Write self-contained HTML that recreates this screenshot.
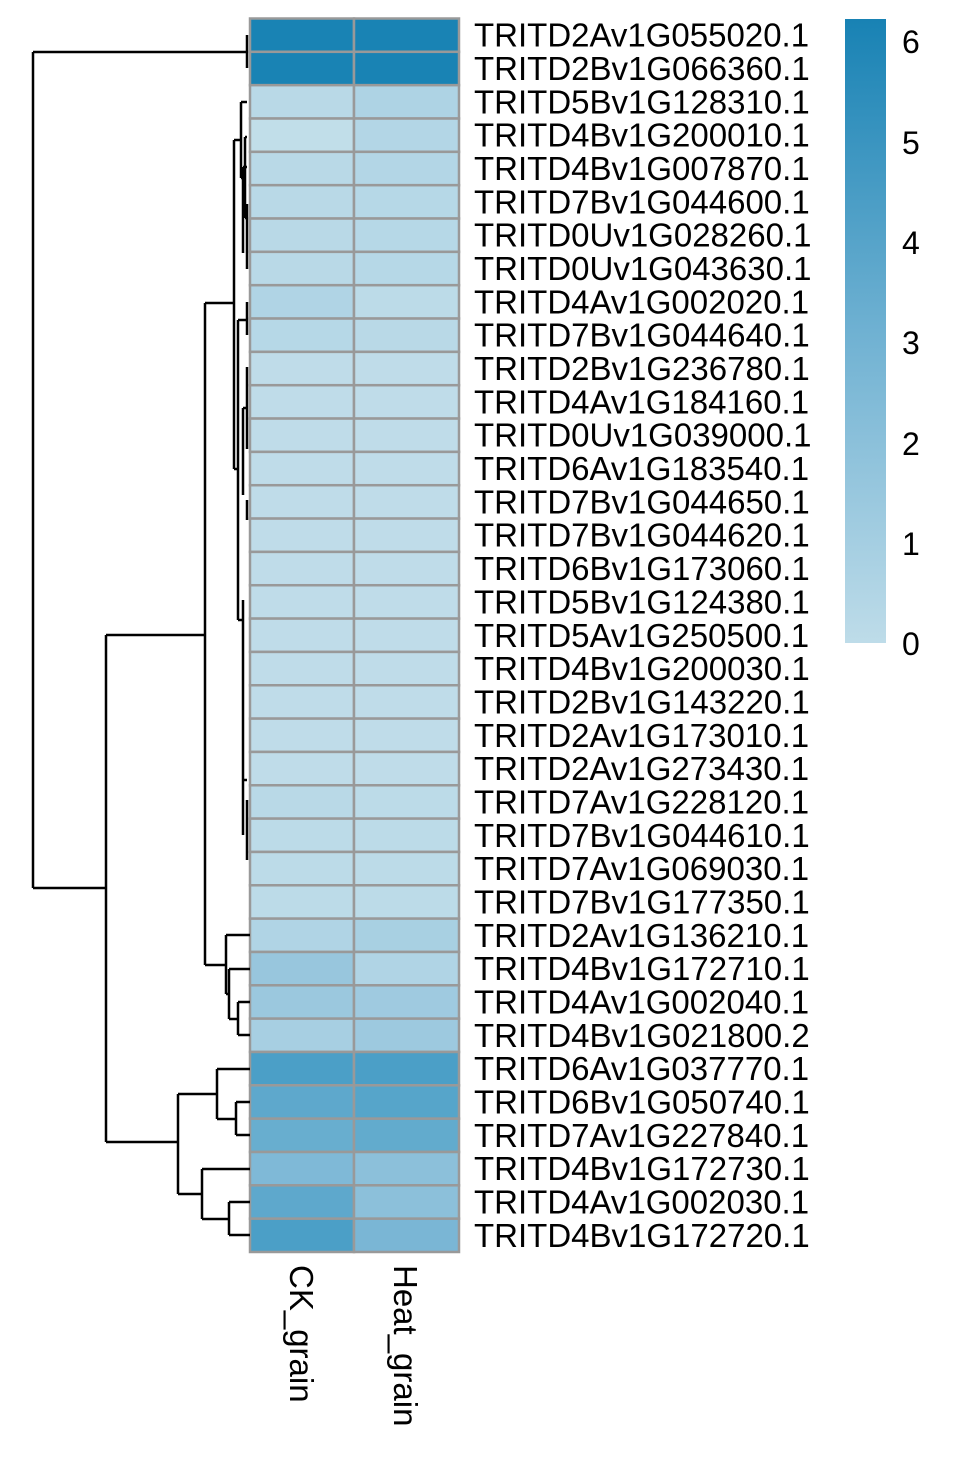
<!DOCTYPE html>
<html><head><meta charset="utf-8"><style>html,body{margin:0;padding:0;background:#fff}svg{display:block}</style></head>
<body>
<svg width="963" height="1458" viewBox="0 0 963 1458" xmlns="http://www.w3.org/2000/svg">
<defs>
<linearGradient id="g" x1="0" y1="0" x2="0" y2="1">
<stop offset="0" stop-color="#1882b4"/>
<stop offset="0.5" stop-color="#6fb1d2"/>
<stop offset="1" stop-color="#bedce9"/>
</linearGradient>
</defs>
<g stroke="#999" stroke-width="2.5" id="cells">
</g>
<g id="labels" font-family="Liberation Sans, sans-serif" font-size="33" fill="#000"></g>
<rect x="845" y="19" width="41" height="624" fill="url(#g)"/>
<g font-family="Liberation Sans, sans-serif" font-size="32" fill="#000">
<text x="902" y="53">6</text><text x="902" y="154">5</text><text x="902" y="254">4</text>
<text x="902" y="354">3</text><text x="902" y="455">2</text><text x="902" y="555">1</text><text x="902" y="655">0</text>
</g>
<g font-family="Liberation Sans, sans-serif" font-size="33" fill="#000">
<text transform="translate(290,1265) rotate(90)">CK_grain</text>
<text transform="translate(394,1265) rotate(90)">Heat_grain</text>
</g>
<g stroke="#000" stroke-width="2.5" fill="none">
<path d="M247,35V68 M33,52H247 M33,52V888 M33,888H106 M106,635V1142 M106,635H205 M106,1142H178"/>
<path d="M205,303V965 M205,303H234 M205,965H226"/>
<path d="M234,140V469 M234,140H241 M241,102V178 M241,102H247 M241,178H245 M245,137V218 M245,137H247 M245,218H247 M243,167V253 M243,167H247 M247,204V269"/>
<path d="M234,469H238 M238,320V620 M238,320H247 M247,302V335 M238,620H243 M243,600V835 M247,367V449 M243,408V495 M243,408H247 M247,500V520 M243,780H247 M247,800V860"/>
<path d="M226,935V994 M226,935H250 M226,994H229 M229,969V1019 M229,969H250 M229,1019H238 M238,1002V1035 M238,1002H250 M238,1035H250"/>
<path d="M178,1094V1194 M178,1094H217 M217,1069V1119 M217,1069H250 M217,1119H236 M236,1102V1135 M236,1102H250 M236,1135H250"/>
<path d="M178,1194H202 M202,1169V1219 M202,1169H250 M202,1219H229 M229,1202V1235 M229,1202H250 M229,1235H250"/>
</g>
<script>
var names=["TRITD2Av1G055020.1","TRITD2Bv1G066360.1","TRITD5Bv1G128310.1","TRITD4Bv1G200010.1","TRITD4Bv1G007870.1","TRITD7Bv1G044600.1","TRITD0Uv1G028260.1","TRITD0Uv1G043630.1","TRITD4Av1G002020.1","TRITD7Bv1G044640.1","TRITD2Bv1G236780.1","TRITD4Av1G184160.1","TRITD0Uv1G039000.1","TRITD6Av1G183540.1","TRITD7Bv1G044650.1","TRITD7Bv1G044620.1","TRITD6Bv1G173060.1","TRITD5Bv1G124380.1","TRITD5Av1G250500.1","TRITD4Bv1G200030.1","TRITD2Bv1G143220.1","TRITD2Av1G173010.1","TRITD2Av1G273430.1","TRITD7Av1G228120.1","TRITD7Bv1G044610.1","TRITD7Av1G069030.1","TRITD7Bv1G177350.1","TRITD2Av1G136210.1","TRITD4Bv1G172710.1","TRITD4Av1G002040.1","TRITD4Bv1G021800.2","TRITD6Av1G037770.1","TRITD6Bv1G050740.1","TRITD7Av1G227840.1","TRITD4Bv1G172730.1","TRITD4Av1G002030.1","TRITD4Bv1G172720.1"];
var L="#bfdce9";
var cols=[["#1983b4","#1983b4"],["#1983b4","#1983b4"],["#b9d9e7","#aed3e4"],["#c1dee9","#b3d6e6"],["#b9d9e7","#b3d6e6"],["#b9d9e7","#b6d8e7"],["#b9d9e7","#b6d8e7"],["#b9d9e7","#b6d8e7"],["#b0d4e5","#bcdbe8"],["#b6d8e7","#b9d9e7"]];
for(var i=10;i<23;i++)cols.push([L,L]);
cols.push(["#b9d9e7","#bcdbe8"],["#bcdbe8","#bcdbe8"],["#bcdbe8","#bcdbe8"],["#bcdbe8","#bcdbe8"],["#b0d4e5","#a8d0e2"],["#98c6dd","#b0d4e5"],["#9bc8de","#9fcae0"],["#a7cfe2","#9dc9df"],["#4b9fc7","#4b9fc7"],["#5ea8cc","#56a5ca"],["#68aecf","#62abcd"],["#7fb9d7","#8cc0da"],["#5ea8cc","#8cc0da"],["#4b9fc7","#7ab6d5"]);
var ns="http://www.w3.org/2000/svg",cg=document.getElementById("cells"),lg=document.getElementById("labels");
var h=(1252-18.5)/37;
for(var i=0;i<37;i++){var y=18.5+h*i;
for(var j=0;j<2;j++){var r=document.createElementNS(ns,"rect");r.setAttribute("x",j?354:250);r.setAttribute("y",y);r.setAttribute("width",j?105:104);r.setAttribute("height",h);r.setAttribute("fill",cols[i][j]);cg.appendChild(r);}
var t=document.createElementNS(ns,"text");t.setAttribute("x",474);t.setAttribute("y",y+h/2+11.5);t.textContent=names[i];lg.appendChild(t);}
</script>
</svg>
</body></html>
